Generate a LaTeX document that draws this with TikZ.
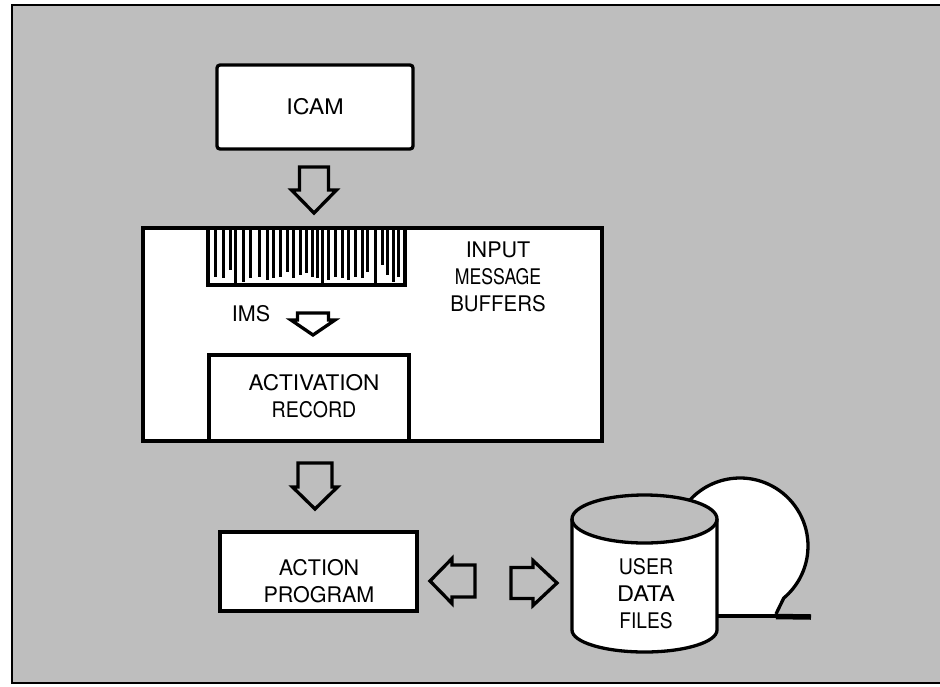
\documentclass[tikz,border=0pt]{standalone}
\usepackage{fontspec}
\setmainfont{TeX Gyre Heros}
\usepackage{graphicx}
\definecolor{screen}{RGB}{190,190,190}
% horizontal-only scaling of a word
\newcommand{\hstretch}[2]{\scalebox{#1}[1]{#2}}
\tikzset{
  outline/.style={line width=3.3pt, line join=miter},
  box/.style={outline, draw, fill=white, rectangle, inner sep=0pt},
  label/.style={font=\fontsize{21.5}{27}\selectfont, align=center, inner sep=0pt},
  bar/.style={line width=3pt},
  % hollow block arrow pointing along +x, tip at the origin:
  % #1 total length, #2 head length, #3 shaft half-width, #4 head half-width
  pics/blockarrow/.style n args={4}{code={
    \draw[outline] (0,0) -- (-#2,-#4) -- (-#2,-#3) -- (-#1,-#3)
      -- (-#1,#3) -- (-#2,#3) -- (-#2,#4) -- cycle;}},
}
\begin{document}
\begin{tikzpicture}[x=1pt,y=-1pt]
\useasboundingbox (0,0) rectangle (940,686);
\fill[white] (0,0) rectangle (940,686);
% screened panel
\draw[line width=2.8pt, fill=screen] (12,5) rectangle (952,683);

% ICAM
\node[box, rounded corners=3pt, minimum width=196pt, minimum height=84pt, label]
  (icam) at (315,107) {\hstretch{1.08}{ICAM}};
\pic[rotate=-90] at (314,213) {blockarrow={46}{23}{14.5}{22.5}};

% message area with input buffers
\node[box, minimum width=459pt, minimum height=213pt] (msgarea) at (372.5,334.5) {};
\node[outline, draw, rectangle, inner sep=0pt, minimum width=197pt, minimum height=57pt]
  (buffers) at (306.5,256.5) {};
\foreach \bx/\by in {215/277,223/278,230/270,243/282,250/278,259/277,267/280,273/278,
  280/277,287/272,293/278,300/275,306/273,312/277,317/278,328/280,335/277,342/278,
  348/280,355/277,362/278,367/272,382/265,387/275,393/282,398/277}
  \draw[bar] (\bx,228) -- (\bx,\by);
\foreach \dx in {235,322,375}
  \draw[bar] (\dx,228) -- (\dx,285);
\node[label] (inputlbl) at (498,276.5)
  {INPUT\\\hstretch{.82}{MESSAGE}\\\hstretch{.95}{BUFFERS}};

\node[label] (imslbl) at (251,314) {IMS};
\pic[rotate=-90] at (313,335) {blockarrow={22}{15}{15.5}{22}};

% activation record, open at the bottom
\draw[outline] (209,441) |- (409,355) -- (409,441);
\node[label] (actlbl) at (314,396.5)
  {\hstretch{1.05}{ACTIVATION}\\\hstretch{.91}{RECORD}};

\pic[rotate=-90] at (315,509) {blockarrow={46}{22}{17}{22.5}};

% action program
\node[box, minimum width=197pt, minimum height=79pt] (action) at (318.5,571.5) {};
\node[label] (actionlbl) at (319,581.5) {ACTION\\PROGRAM};

\pic[rotate=180] at (430,581) {blockarrow={45}{22}{16}{22.5}};
\pic at (557,583) {blockarrow={46}{24}{15.5}{22.5}};

% tape reel behind the disk
\fill[white] (740,546) ++(215:68) arc[start angle=215,end angle=410,radius=68]
  -- (776,614) -- (700,616) -- cycle;
\draw[outline] (740,546) ++(215:68) arc[start angle=215,end angle=410,radius=68]
  -- (776,614);
\draw[outline] (705,616) -- (776,616);
\draw[line width=5.5pt] (776,616.5) -- (811,617);

% disk cylinder
\fill[white] (572,519) -- (572,630)
  arc[start angle=180,end angle=0,x radius=72.5,y radius=22] -- (717,519)
  arc[start angle=0,end angle=180,x radius=72.5,y radius=24] -- cycle;
\draw[outline, fill=screen] (644.5,519) ellipse [x radius=72.5, y radius=24];
\draw[outline] (572,519) -- (572,630)
  arc[start angle=180,end angle=0,x radius=72.5,y radius=22] -- (717,519);
\node[label] (userlbl) at (646,594)
  {\hstretch{.91}{USER}\\\hstretch{1.1}{DATA}\\\hstretch{.89}{FILES}};
\end{tikzpicture}
\end{document}
